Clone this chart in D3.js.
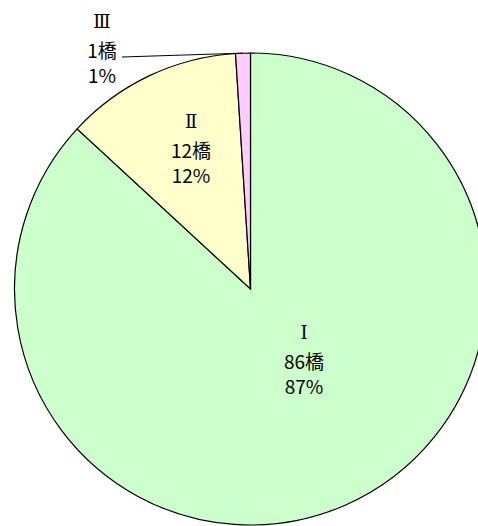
<!DOCTYPE html>
<html>
<head>
<meta charset="utf-8">
<script src="https://cdn.jsdelivr.net/npm/d3@7"></script>
<style>
  body { margin: 0; background: #fff; }
  text { font-family: "Noto Sans CJK JP", "Noto Sans", sans-serif; font-size: 19px; fill: #000; }
  text.rank { font-family: "DejaVu Serif", "Liberation Serif", serif; font-size: 18px; }
</style>
</head>
<body>
<svg id="chart" width="478" height="526"></svg>
<script>
// categories and values
var ranks = ["Ⅰ", "Ⅱ", "Ⅲ"]
var counts = [86, 12, 1]
var percents = ["87%", "12%", "1%"]
var colors = ["#ccffcc", "#ffffcc", "#ffccff"]

// where the labels sit (first baseline), Excel best-fit look
var labelPos = [[304, 339], [191, 128], [102, 28]]

var svg = d3.select("#chart")
var cx = 250.5, cy = 289, radius = 236

var pie = d3.pie().sort(null).value(function (d) { return d })
var arcs = pie(counts)
var arc = d3.arc().innerRadius(0).outerRadius(radius)

var g = svg.append("g").attr("transform", "translate(" + cx + "," + cy + ")")
g.selectAll("path.slice").data(arcs).enter().append("path")
  .attr("class", "slice")
  .attr("d", arc)
  .attr("fill", function (d, i) { return colors[i] })
  .attr("stroke", "#000")
  .attr("stroke-width", 1.2)

// leader line for the small slice
var small = arcs[2]
var mid = (small.startAngle + small.endAngle) / 2
var ex = cx + Math.sin(mid) * radius, ey = cy - Math.cos(mid) * radius
svg.append("line")
  .attr("x1", labelPos[2][0] + 20).attr("y1", labelPos[2][1] + 29)
  .attr("x2", ex).attr("y2", ey)
  .attr("stroke", "#000").attr("stroke-width", 1)

var labels = svg.selectAll("g.label").data(arcs).enter().append("g")
  .attr("class", "label")
  .attr("transform", function (d, i) { return "translate(" + labelPos[i][0] + "," + labelPos[i][1] + ")" })
labels.append("text").attr("class", "rank").attr("text-anchor", "middle").attr("y", 0)
  .text(function (d, i) { return ranks[i] })
labels.append("text").attr("text-anchor", "middle").attr("y", 30)
  .text(function (d, i) { return counts[i] + "橋" })
labels.append("text").attr("text-anchor", "middle").attr("y", 55)
  .text(function (d, i) { return percents[i] })
</script>
</body>
</html>
